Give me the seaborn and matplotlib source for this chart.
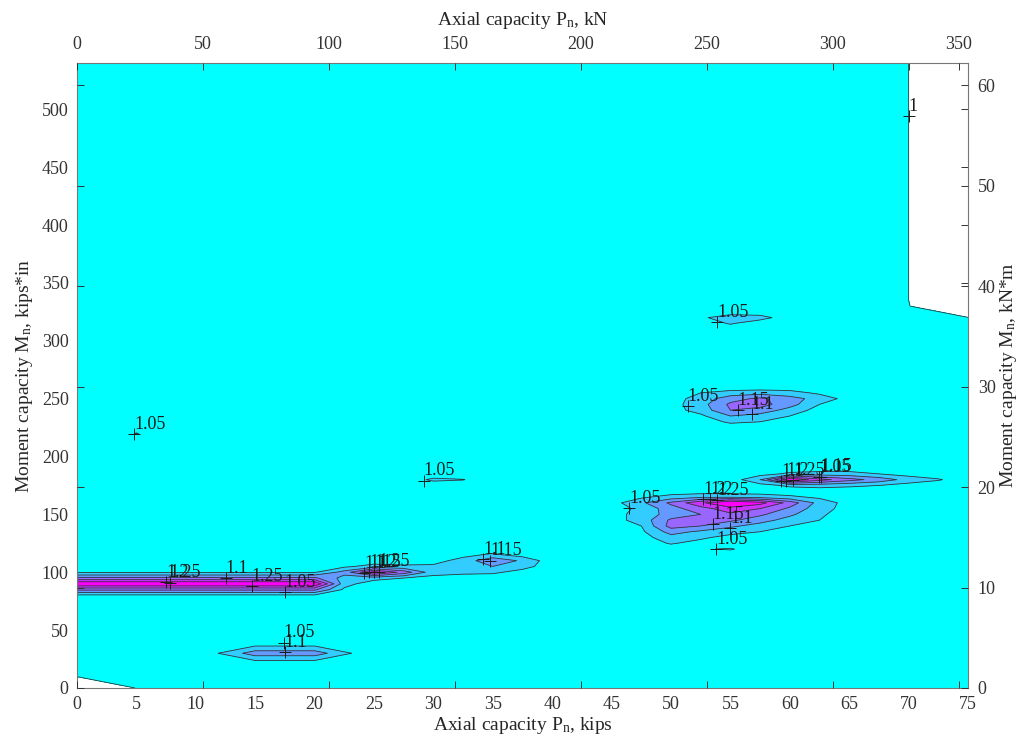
import numpy as np
import matplotlib
matplotlib.use("Agg")
import matplotlib.pyplot as plt
from matplotlib.colors import ListedColormap, BoundaryNorm
import seaborn as sns

# grid of the capacity ratio (kips, kips*in)
x_kips = np.arange(0, 75.01, 2.5)
y_kipin = np.arange(0, 540.01, 5)
base_ratio = 1.02
levels = [1.0, 1.05, 1.1, 1.15, 1.2, 1.25, 1.3]

# rows of raised ratio: (y, first x, values every 2.5 kips)
band_low = [
    (80, 0, [1.04, 1.04, 1.04, 1.04, 1.04, 1.04, 1.04, 1.04, 1.04, 1.02]),
    (85, 0, [1.16, 1.16, 1.16, 1.16, 1.16, 1.16, 1.16, 1.16, 1.16, 1.04]),
    (90, 0, [1.30, 1.30, 1.30, 1.30, 1.30, 1.30, 1.30, 1.30, 1.30, 1.07]),
    (95, 0, [1.16, 1.16, 1.16, 1.16, 1.16, 1.16, 1.16, 1.16, 1.16, 1.08]),
    (100, 0, [1.045, 1.045, 1.045, 1.045, 1.045, 1.045, 1.045, 1.045, 1.045]),
]
band_mid = [
    (95, 25, [1.07, 1.05, 1.035, 1.03]),
    (100, 22.5, [1.12, 1.27, 1.18, 1.07, 1.06, 1.06, 1.03]),
    (105, 22.5, [1.04, 1.07, 1.06, 1.06, 1.07, 1.10, 1.07]),
    (110, 30, [1.03, 1.07, 1.14, 1.09]),
    (115, 32.5, [1.035, 1.06, 1.03]),
]
blob_bottom = [
    (25, 15, [1.06, 1.06, 1.06]),
    (30, 12.5, [1.06, 1.13, 1.13, 1.13, 1.06]),
    (35, 15, [1.06, 1.06, 1.06]),
]
small_spots = [
    (220, 5, [1.052]),
    (180, 30, [1.06, 1.052]),
    (315, 55, [1.055]),
    (320, 52.5, [1.04, 1.08, 1.07]),
]
blob_250 = [
    (230, 55, [1.06, 1.05]),
    (235, 52.5, [1.04, 1.10, 1.08, 1.05]),
    (240, 50, [1.03, 1.07, 1.15, 1.13, 1.08, 1.03]),
    (245, 50, [1.03, 1.08, 1.16, 1.17, 1.12, 1.05]),
    (250, 50, [1.03, 1.07, 1.13, 1.16, 1.12, 1.08, 1.03]),
    (255, 52.5, [1.05, 1.07, 1.08, 1.07, 1.04]),
]
blob_155 = [
    (120, 52.5, [1.045, 1.055]),
    (125, 50, [1.055, 1.03, 1.02]),
    (130, 47.5, [1.03, 1.08, 1.06, 1.03]),
    (135, 47.5, [1.04, 1.12, 1.09, 1.07, 1.05, 1.03]),
    (140, 47.5, [1.05, 1.17, 1.15, 1.11, 1.08, 1.05, 1.02]),
    (145, 45, [1.03, 1.07, 1.16, 1.17, 1.16, 1.12, 1.08, 1.05]),
    (150, 45, [1.03, 1.07, 1.12, 1.15, 1.19, 1.16, 1.11, 1.06]),
    (155, 45, [1.03, 1.06, 1.13, 1.18, 1.23, 1.20, 1.14, 1.07, 1.03]),
    (160, 45, [1.03, 1.09, 1.16, 1.24, 1.31, 1.27, 1.18, 1.08, 1.03]),
    (165, 47.5, [1.04, 1.07, 1.09, 1.09, 1.08, 1.06, 1.04]),
]
blob_180 = [
    (175, 57.5, [1.03, 1.06, 1.07, 1.06, 1.05, 1.03]),
    (180, 57.5, [1.10, 1.30, 1.22, 1.17, 1.13, 1.08, 1.055, 1.02]),
    (185, 57.5, [1.03, 1.06, 1.07, 1.07, 1.05, 1.03]),
]
# points below 1 (left blank) and their edges
below_one = [
    (0, 0, [0.98, 0.99, 1.0005]),
    (5, 0, [0.99, 1.0005]),
    (10, 0, [1.0005]),
    (320, 75, [1.001]),
    (325, 72.5, [1.001, 0.98]),
    (330, 70, [1.001, 0.98, 0.98]),
]
corner_x, corner_y, corner_ratio = 72.5, 335, 0.5

# contour labels (at the '+' marks)
label_x = [7.5, 7.8, 12.5, 14.7, 17.5, 17.4, 17.5, 4.8, 29.2,
           24.2, 24.6, 25.0, 25.4, 34.2, 34.8, 53.9, 51.4, 55.6, 56.8,
           46.5, 52.7, 53.3, 53.9, 53.5, 55.0, 53.8,
           59.3, 59.7, 60.3, 62.5, 62.6, 70.0]
label_y = [91.6, 91.0, 95, 88, 83, 39, 31, 219.5, 179,
           99.4, 99.8, 100.2, 100.6, 111.5, 110, 316, 243.6, 240, 236.7,
           155.5, 163, 163, 162.5, 141.7, 138, 120,
           178.5, 179, 179.5, 182.3, 182.6, 494]
label_txt = ["1.2", "1.25", "1.1", "1.25", "1.05", "1.05", "1.1", "1.05", "1.05",
             "1.1", "1.15", "1.2", "1.25", "1.1", "1.15", "1.05", "1.05", "1.15", "1.1",
             "1.05", "1.2", "1.2", "1.25", "1.15", "1.1", "1.05",
             "1.1", "1.2", "1.25", "1.05", "1.15", "1"]

Z = np.full((len(y_kipin), len(x_kips)), base_ratio)
for rows in [band_low, band_mid, blob_bottom, small_spots, blob_250,
             blob_155, blob_180, below_one]:
    for y, x0, vals in rows:
        i = int(np.argmin(np.abs(y_kipin - y)))
        j = int(np.argmin(np.abs(x_kips - x0)))
        Z[i, j:j + len(vals)] = vals
Z[np.ix_(y_kipin >= corner_y, x_kips >= corner_x)] = corner_ratio
Z[np.ix_(y_kipin >= corner_y, np.isclose(x_kips, 70))] = 1.001

sns.set_theme(style="ticks")
plt.rcParams["font.family"] = ["Liberation Serif", "DejaVu Serif"]
plt.rcParams["mathtext.fontset"] = "custom"
plt.rcParams["mathtext.rm"] = "Liberation Serif"
plt.rcParams["mathtext.it"] = "Liberation Serif:italic"

cool = plt.get_cmap("cool")
cmap = ListedColormap([cool(v) for v in np.linspace(0, 1, len(levels) - 1)])
norm = BoundaryNorm(levels, cmap.N)

fig = plt.figure(figsize=(10.24, 7.44), dpi=100)
ax = fig.add_axes([0.0752, 0.0753, 0.8701, 0.8400])
ax.set_facecolor("white")
ax.contourf(x_kips, y_kipin, Z, levels=levels, cmap=cmap, norm=norm)
ax.contour(x_kips, y_kipin, Z, levels=levels[:-1], colors="#2a3a3a", linewidths=0.6)

ax.plot(label_x, label_y, "+", color="k", ms=8, mew=0.7)
for lx, ly, lt in zip(label_x, label_y, label_txt):
    ax.annotate(lt, (lx, ly), xytext=(0, 1), textcoords="offset points",
                ha="left", va="bottom", fontsize=13, color="k")

ax.set_xlim(0, 75)
ax.set_ylim(0, 540)
ax.set_xticks(np.arange(0, 76, 5))
ax.set_yticks(np.arange(0, 501, 50))
ax.tick_params(direction="in", top=True, right=True, length=5, width=0.7,
               labelsize=13, colors="#333333", pad=6)
ax.set_xlabel("Axial capacity P$_\\mathrm{n}$, kips", fontsize=14, labelpad=1)
ax.set_ylabel("Moment capacity M$_\\mathrm{n}$, kips*in", fontsize=14, labelpad=5)
for s in ax.spines.values():
    s.set_color("#777777")
    s.set_linewidth(0.8)

# metric axes on top and right
ax2 = fig.add_axes(ax.get_position(), frameon=False)
ax2.patch.set_visible(False)
ax2.set_xlim(0, 353.6)
ax2.set_ylim(0, 62.2)
ax2.set_xticks(np.arange(0, 351, 50))
ax2.set_yticks(np.arange(0, 61, 10))
ax2.xaxis.set_label_position("top")
ax2.yaxis.set_label_position("right")
ax2.tick_params(direction="in", top=True, right=True, bottom=True, left=True,
                labeltop=True, labelright=True, labelbottom=False, labelleft=False,
                length=5, width=0.7, labelsize=13, colors="#333333", pad=7)
ax2.set_xlabel("Axial capacity P$_\\mathrm{n}$, kN", fontsize=14, labelpad=8)
ax2.set_ylabel("Moment capacity M$_\\mathrm{n}$, kN*m", fontsize=14, labelpad=2)

fig.savefig("out.png", dpi=100)
